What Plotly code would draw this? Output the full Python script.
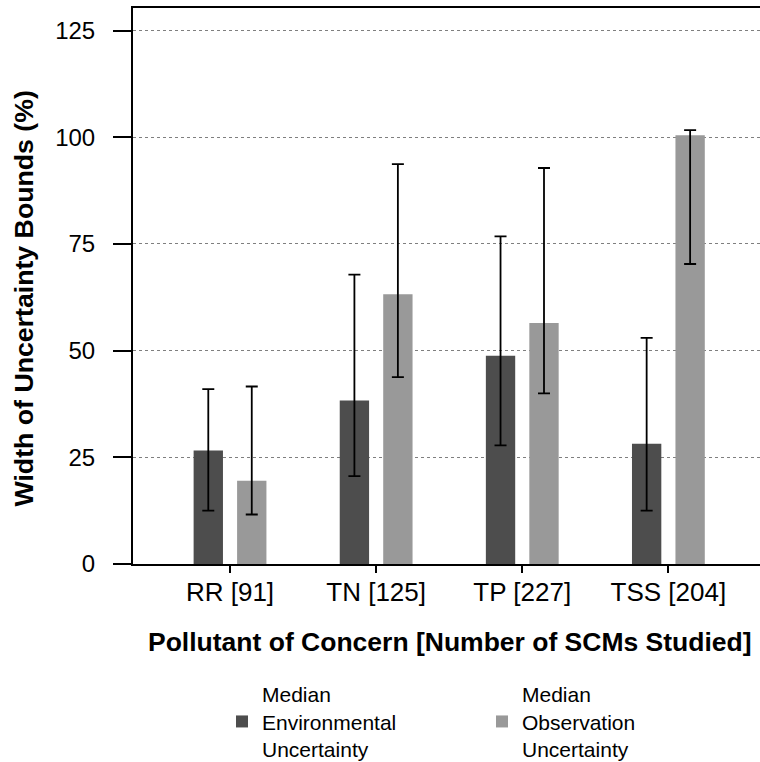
import plotly.graph_objects as go

categories = ["RR [91]", "TN [125]", "TP [227]", "TSS [204]"]

env_median = [26.6, 38.3, 48.8, 28.2]
env_upper = [41.0, 67.8, 76.8, 53.0]
env_lower = [12.5, 20.6, 27.8, 12.5]

obs_median = [19.5, 63.2, 56.5, 100.5]
obs_upper = [41.6, 93.7, 92.8, 101.7]
obs_lower = [11.6, 43.8, 40.0, 70.3]

y_ticks = [0, 25, 50, 75, 100, 125]

FONT = "Liberation Sans, Arial, sans-serif"


def err(med, up, lo):
    return dict(
        type="data", symmetric=False,
        array=[u - m for u, m in zip(up, med)],
        arrayminus=[m - l for m, l in zip(med, lo)],
        color="black", thickness=1.8, width=6,
    )


fig = go.Figure()
fig.add_trace(go.Bar(
    x=categories, y=env_median, name="Median<br>Environmental<br>Uncertainty",
    marker=dict(color="#4d4d4d", line=dict(width=0)),
    error_y=err(env_median, env_upper, env_lower),
))
fig.add_trace(go.Bar(
    x=categories, y=obs_median, name="Median<br>Observation<br>Uncertainty",
    marker=dict(color="#999999", line=dict(width=0)),
    error_y=err(obs_median, obs_upper, obs_lower),
))

fig.update_layout(
    width=760, height=762,
    margin=dict(l=133, r=0, t=8, b=198, autoexpand=False),
    paper_bgcolor="white", plot_bgcolor="white",
    font=dict(family=FONT, color="black", size=21),
    barmode="group", bargap=0.405, bargroupgap=0.325,
    legend=dict(
        orientation="h", xref="container", yref="container",
        x=222 / 760, xanchor="left", y=1 - 674 / 762, yanchor="top",
        font=dict(size=21), entrywidth=215, entrywidthmode="pixels",
        traceorder="normal", itemsizing="constant",
    ),
    xaxis=dict(
        type="category", range=[-0.664, 3.627],
        showline=True, linecolor="black", linewidth=2, mirror=True,
        ticks="outside", ticklen=7, tickwidth=2, tickcolor="black",
        tickfont=dict(size=26), ticklabelstandoff=-3, showgrid=False,
    ),
    yaxis=dict(
        range=[0, 130.3], tickvals=y_ticks,
        showline=True, linecolor="black", linewidth=2,
        ticks="outside", ticklen=18, tickwidth=2, tickcolor="black",
        tickfont=dict(size=24), ticklabelstandoff=13,
        showgrid=True, gridcolor="#7f7f7f", gridwidth=1, griddash="dot",
        zeroline=False,
    ),
    annotations=[
        dict(
            text="<b>Width of Uncertainty Bounds (%)</b>",
            textangle=-90, font=dict(size=26.7),
            xref="paper", yref="paper",
            x=(23 - 133) / 627, y=(564 - 298.5) / 556,
            xanchor="center", yanchor="middle", showarrow=False,
        ),
        dict(
            text="<b>Pollutant of Concern [Number of SCMs Studied]</b>",
            font=dict(size=26.5),
            xref="paper", yref="paper",
            x=(450 - 133) / 627, y=(564 - 642) / 556,
            xanchor="center", yanchor="middle", showarrow=False,
        ),
    ],
)

fig.write_html("out.html")
